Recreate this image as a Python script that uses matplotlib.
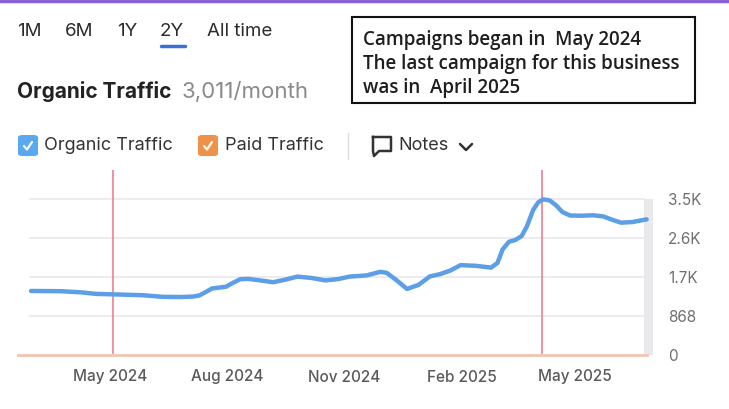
import matplotlib.pyplot as plt
import numpy as np
import pandas as pd
from matplotlib.patches import FancyBboxPatch, Rectangle
from matplotlib.lines import Line2D

# organic traffic (visits / month)
dates = pd.to_datetime([
    "2024-02-29", "2024-03-23", "2024-04-08", "2024-04-20", "2024-05-03",
    "2024-05-27", "2024-06-11", "2024-06-25", "2024-07-05", "2024-07-10",
    "2024-07-15", "2024-07-20", "2024-07-31", "2024-08-05", "2024-08-11",
    "2024-08-17", "2024-08-27", "2024-09-06", "2024-09-16", "2024-09-25",
    "2024-10-06", "2024-10-17", "2024-10-27", "2024-11-05", "2024-11-18",
    "2024-11-29", "2024-12-04", "2024-12-12", "2024-12-20", "2024-12-29",
    "2025-01-07", "2025-01-15", "2025-01-23", "2025-01-31", "2025-02-12",
    "2025-02-24", "2025-03-01", "2025-03-05", "2025-03-10", "2025-03-15",
    "2025-03-20", "2025-03-24", "2025-03-29", "2025-04-02", "2025-04-06",
    "2025-04-11", "2025-04-16", "2025-04-21", "2025-04-27", "2025-05-06",
    "2025-05-15", "2025-05-23", "2025-05-30", "2025-06-06", "2025-06-15",
    "2025-06-26",
])
organic = [
    1425, 1420, 1395, 1360, 1350,
    1330, 1295, 1290, 1300, 1325,
    1400, 1480, 1520, 1600, 1685,
    1695, 1660, 1620, 1680, 1745,
    1715, 1660, 1690, 1745, 1770,
    1850, 1830, 1660, 1470, 1560,
    1750, 1800, 1880, 2000, 1985,
    1945, 2050, 2350, 2520, 2560,
    2650, 2860, 3230, 3400, 3465,
    3440, 3330, 3180, 3105, 3100,
    3110, 3085, 3010, 2945, 2960,
    3020,
]
campaign_marks = pd.to_datetime(["2024-05-03", "2025-04-05"])

y_ticks = [0, 868, 1736, 2604, 3472]
y_labels = ["0", "868", "1.7K", "2.6K", "3.5K"]
x_ticks = pd.to_datetime(["2024-05-01", "2024-08-01", "2024-11-01", "2025-02-01", "2025-05-01"])
x_labels = ["May 2024", "Aug 2024", "Nov 2024", "Feb 2025", "May 2025"]

tabs = ["1M", "6M", "1Y", "2Y", "All time"]
tab_x = [17, 65, 117, 160, 207]

note_lines = [
    "Campaigns began in  May 2024",
    "The last campaign for this business",
    "was in  April 2025",
]

W, H = 729, 409
UI = ["Inter", "DejaVu Sans"]


def fx(x):
    return x / W


def fy(y):
    return 1 - y / H


fig = plt.figure(figsize=(W / 100, H / 100), dpi=100)

# purple strip on top
fig.add_artist(Line2D([0, 1], [fy(1), fy(1)], color="#8a5fd1", lw=2.5))

# range tabs
for t, x in zip(tabs, tab_x):
    fig.text(fx(x), fy(29), t, fontsize=13.5, color="#2b2b2b", family=UI,
             va="center_baseline", ha="left")
fig.add_artist(Line2D([fx(161), fx(185)], [fy(46), fy(46)], color="#3b6fd1",
                      lw=2.5, solid_capstyle="round"))

# title
fig.text(fx(17), fy(90), "Organic Traffic", fontsize=15, weight="bold",
         color="#222222", family=UI, va="center_baseline")
fig.text(fx(182), fy(90), "3,011/month", fontsize=16, color="#8a8a8a",
         family=UI, va="center_baseline")


def checkbox(x, color):
    box = FancyBboxPatch((fx(x), fy(156)), fx(20), 21 / H,
                         boxstyle="round,pad=0,rounding_size=0.006",
                         transform=fig.transFigure, facecolor=color,
                         edgecolor="none")
    fig.add_artist(box)
    fig.add_artist(Line2D([fx(x + 6), fx(x + 9), fx(x + 14)],
                          [fy(146), fy(149.5), fy(142)], color="white",
                          lw=1.6, solid_capstyle="round",
                          solid_joinstyle="round"))


checkbox(18, "#5aa9f0")
fig.text(fx(44), fy(146), "Organic Traffic", fontsize=13, color="#333333",
         family=UI, va="center")
checkbox(198, "#f0914a")
fig.text(fx(225), fy(146), "Paid Traffic", fontsize=13, color="#333333",
         family=UI, va="center")
fig.add_artist(Line2D([fx(348), fx(348)], [fy(133), fy(159)], color="#dddddd", lw=1))

# notes icon and chevron
bx = [373, 391, 391, 379, 374, 373, 373]
by = [137, 137, 151, 151, 156, 151, 137]
fig.add_artist(Line2D([fx(v) for v in bx], [fy(v) for v in by], color="#333333",
                      lw=1.8, solid_joinstyle="round"))
fig.text(fx(398), fy(146), "Notes", fontsize=13, color="#333333", family=UI,
         va="center")
fig.add_artist(Line2D([fx(460), fx(466), fx(472)], [fy(144), fy(150), fy(144)],
                      color="#333333", lw=1.8, solid_capstyle="round"))

# annotation box
fig.add_artist(Rectangle((fx(352), fy(103)), fx(343), 86 / H,
                         transform=fig.transFigure, facecolor="white",
                         edgecolor="#111111", lw=1.5))
for i, line in enumerate(note_lines):
    fig.text(fx(363), fy(37 + 24.5 * i), line, fontsize=13.5, weight="semibold",
             color="#1e1e1e", family=["Open Sans", "DejaVu Sans"], va="center_baseline")

# chart area
ax = fig.add_axes([fx(17), fy(357), fx(636), 187 / H])
ax.set_xlim(pd.Timestamp("2024-02-18"), pd.Timestamp("2025-07-01"))
ax.set_ylim(-45, 4118)

for v in y_ticks[1:]:
    ax.axhline(v, xmin=13 / 636, xmax=628 / 636, color="#e9e9ee", lw=1.2, zorder=1)
ax.fill_between([pd.Timestamp("2025-06-24"), pd.Timestamp("2025-07-01")], 0, y_ticks[-1],
                color="#e9e9ec", lw=0, zorder=1)
ax.axhline(0, xmin=0, xmax=630 / 636, color="#f1c5b0", lw=2, zorder=2)

for d in campaign_marks:
    ax.axvline(d, ymin=0.02, ymax=1, color="#f07d95", lw=1.2, zorder=3)

ax.plot(dates, organic, color="#5c9fe6", lw=3.2, solid_joinstyle="round",
        solid_capstyle="round", zorder=4)

ax.yaxis.tick_right()
ax.set_yticks(y_ticks)
ax.set_yticklabels(y_labels, family=UI, fontsize=11, color="#6f6f6f")
ax.tick_params(axis="y", length=0, pad=11)
ax.set_xticks(x_ticks)
ax.set_xticklabels(x_labels, family=UI, fontsize=11, color="#5a5a5a", weight="medium")
ax.tick_params(axis="x", length=0, pad=9)
for s in ax.spines.values():
    s.set_visible(False)
ax.patch.set_alpha(0)

fig.savefig("out.png", dpi=100)
